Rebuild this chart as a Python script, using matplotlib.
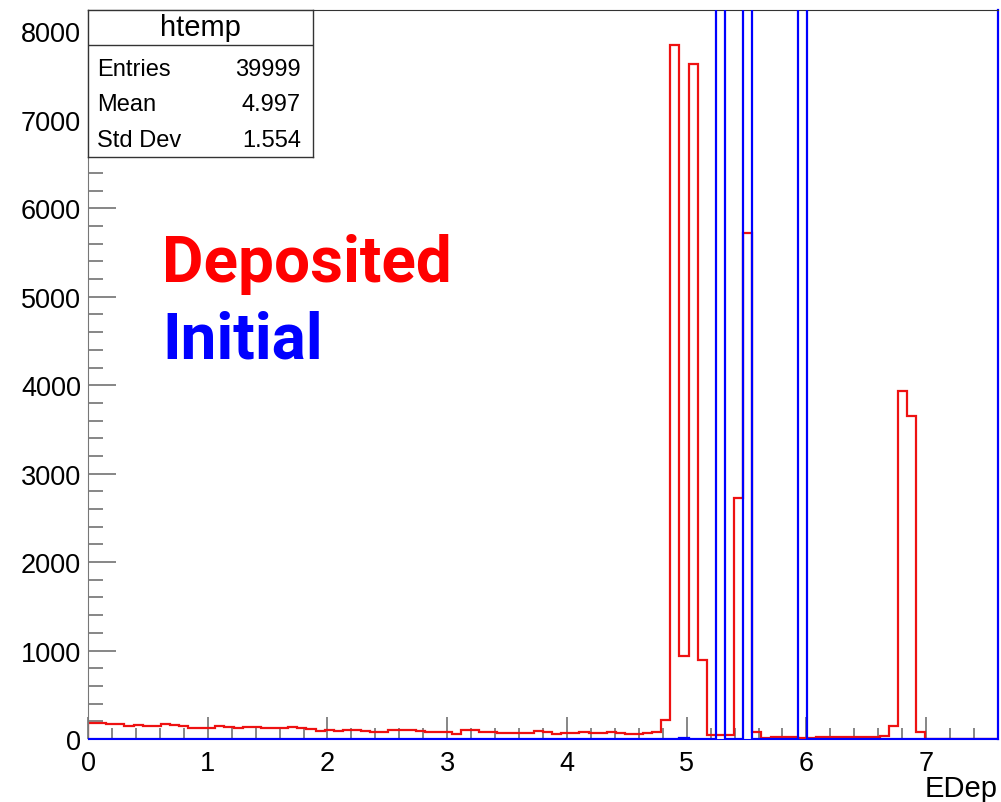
import numpy as np
import matplotlib
matplotlib.use('Agg')
import matplotlib.pyplot as plt
from matplotlib.ticker import MultipleLocator

plt.rcParams['font.family'] = ['Liberation Sans', 'DejaVu Sans']

# htemp: 100 bins over [0, 7.6]
x_min, x_max, n_bins = 0.0, 7.6, 100
edges = np.linspace(x_min, x_max, n_bins + 1)

# Deposited energy (red)
deposited = [
    177, 177, 169, 166, 151, 158, 143, 143, 166, 162,
    143, 128, 120, 124, 143, 139, 128, 132, 139, 128,
    120, 120, 136, 128, 113, 90, 98, 94, 105, 105,
    87, 83, 83, 98, 102, 102, 87, 83, 75, 75,
    60, 102, 102, 75, 75, 68, 68, 68, 68, 87,
    75, 56, 68, 68, 75, 64, 64, 75, 68, 56,
    56, 68, 75, 218, 7850, 941, 7627, 896, 45, 45,
    48, 2727, 5717, 75, 15, 23, 23, 23, 15, 15,
    19, 23, 23, 19, 19, 26, 26, 30, 143, 3932,
    3653, 83, 0, 0, 0, 0, 0, 0, 0, 0,
]

# Initial energy (blue): three lines, way off scale
initial = np.zeros(n_bins)
initial[65] = 11
initial[69] = 13333
initial[72] = 13333
initial[78] = 13333

stats_name = 'htemp'
stats_rows = [('Entries', '39999'), ('Mean', '4.997'), ('Std Dev', '1.554')]

fig = plt.figure(figsize=(10.01, 8.03), dpi=100)
W, H = 1001, 803
ax = fig.add_axes([88 / W, (H - 740) / H, 910 / W, 729 / H])

ax.stairs(deposited, edges, color='#ee1111', lw=1.6, zorder=2)
ax.stairs(initial, edges, color='#0000ff', lw=1.6, zorder=3)

ax.set_xlim(x_min, x_max)
ax.set_ylim(0, 1.05 * max(deposited))

ax.xaxis.set_major_locator(MultipleLocator(1))
ax.xaxis.set_minor_locator(MultipleLocator(0.2))
ax.yaxis.set_major_locator(MultipleLocator(1000))
ax.yaxis.set_minor_locator(MultipleLocator(200))
ax.tick_params(which='both', direction='in', colors='#666666', labelcolor='black',
               labelsize=19.5, width=1.1, top=False, right=False)
ax.tick_params(axis='x', which='major', length=16, pad=8)
ax.tick_params(axis='x', which='minor', length=8)
ax.tick_params(axis='y', which='major', length=20, pad=5)
ax.tick_params(axis='y', which='minor', length=11)

ax.spines['top'].set_color('#333333')
ax.spines['left'].set_color('#777777')
ax.spines['right'].set_color('#0000ff')
ax.spines['right'].set_linewidth(1.6)
ax.spines['bottom'].set_color('#0000ff')

ax.text(1.0, -0.078, 'EDep', transform=ax.transAxes, ha='right', va='baseline',
        fontsize=21)

ax.text(0.0813, 0.628, 'Deposited', transform=ax.transAxes, color='#ff0000',
        fontsize=46, fontweight='bold', family='Roboto', va='baseline')
ax.text(0.0813, 0.524, 'Initial', transform=ax.transAxes, color='#0000ff',
        fontsize=46, fontweight='bold', family='Roboto', va='baseline')

# stats box
sb = fig.add_axes([88 / W, (H - 158) / H, 225 / W, 147 / H])
sb.set_xticks([])
sb.set_yticks([])
sb.set_xlim(0, 1)
sb.set_ylim(0, 1)
for s in sb.spines.values():
    s.set_color('#333333')
    s.set_linewidth(1.0)
sb.axhline(0.762, color='#333333', lw=1.0)
sb.text(0.5, 0.884, stats_name, ha='center', va='center', fontsize=21)
for (lab, val), yy in zip(stats_rows, [0.60, 0.362, 0.117]):
    sb.text(0.04, yy, lab, ha='left', va='center', fontsize=17)
    sb.text(0.947, yy, val, ha='right', va='center', fontsize=17)

fig.savefig('out.png', dpi=100)
